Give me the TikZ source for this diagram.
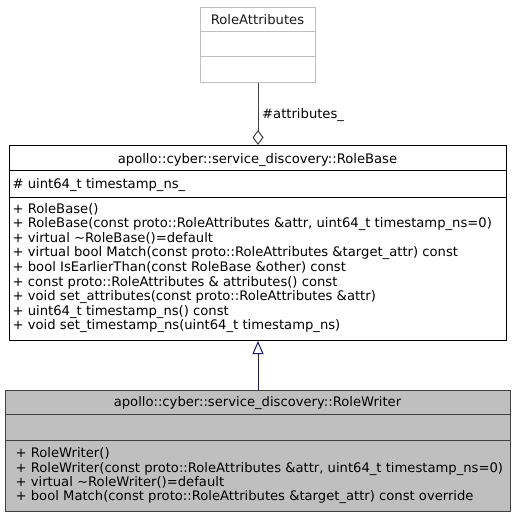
\documentclass[tikz,border=0pt]{standalone}
\usepackage{fontspec}
\setmainfont{DejaVu Sans}
\usetikzlibrary{arrows.meta}
\definecolor{grayborder}{HTML}{BFBFBF}
\definecolor{graytext}{HTML}{1A1A1A}
\definecolor{darkborder}{HTML}{404040}
\definecolor{navyline}{HTML}{191970}
\definecolor{boxfill}{HTML}{BFBFBF}
\tikzset{
  classbox/.style={draw, line width=1pt, inner sep=0, anchor=north west},
  txt/.style={anchor=base west, inner sep=0, font=\fontsize{13.15}{15}\selectfont},
  ctxt/.style={anchor=base, inner sep=0, font=\fontsize{13.15}{15}\selectfont},
}
\begin{document}
\begin{tikzpicture}[x=1pt,y=-1pt]
\useasboundingbox (0,0) rectangle (515,516);
% RoleAttributes
\node[classbox, draw=grayborder, fill=white, minimum width=115pt, minimum height=75pt] (attr) at (200,7) {};
\draw[grayborder, line width=1pt] (200,32) -- (315,32) (200,57) -- (315,57);
\node[ctxt, text=graytext] (attrt) at (257.5,24.5) {RoleAttributes};
% RoleBase
\node[classbox, draw=black, fill=white, minimum width=497pt, minimum height=195pt] (base) at (9,145) {};
\draw[black, line width=1pt] (9,170) -- (506,170) (9,197) -- (506,197);
\node[ctxt] (baset) at (257.5,163) {apollo::cyber::service\_discovery::RoleBase};
\node[txt] (basef) at (12.5,188) {\# uint64\_t timestamp\_ns\_};
\foreach [count=\i from 0] \t in {
  {+ RoleBase()},
  {+ RoleBase(const proto::RoleAttributes \&attr, uint64\_t timestamp\_ns=0)},
  {+ virtual \textasciitilde RoleBase()=default},
  {+ virtual bool Match(const proto::RoleAttributes \&target\_attr) const},
  {+ bool IsEarlierThan(const RoleBase \&other) const},
  {+ const proto::RoleAttributes \& attributes() const},
  {+ void set\_attributes(const proto::RoleAttributes \&attr)},
  {+ uint64\_t timestamp\_ns() const},
  {+ void set\_timestamp\_ns(uint64\_t timestamp\_ns)}}
  \node[txt] (bm\i) at (12.5,213+14.6*\i) {\t};
% RoleWriter
\node[classbox, draw=darkborder, fill=boxfill, minimum width=505pt, minimum height=121pt] (writer) at (4.5,389.5) {};
\draw[darkborder, line width=1pt] (4.5,414.5) -- (509.5,414.5) (4.5,440.5) -- (509.5,440.5);
\node[ctxt] (writert) at (257.5,406.5) {apollo::cyber::service\_discovery::RoleWriter};
\foreach [count=\i from 0] \t in {
  {+ RoleWriter()},
  {+ RoleWriter(const proto::RoleAttributes \&attr, uint64\_t timestamp\_ns=0)},
  {+ virtual \textasciitilde RoleWriter()=default},
  {+ bool Match(const proto::RoleAttributes \&target\_attr) const override}}
  \node[txt] (wm\i) at (15.5,457.7+14.4*\i) {\t};
% connectors
\draw[darkborder, line width=1pt, {Diamond[open,length=15pt,width=11pt]}-] (base.north -| attr.south) -- (attr.south);
\node[txt] (lbl) at (262,118) {\#attributes\_};
\draw[navyline, line width=1pt, {Triangle[open,length=13pt,width=11pt]}-] (base.south -| attr.south) -- (writer.north -| attr.south);
\end{tikzpicture}
\end{document}
